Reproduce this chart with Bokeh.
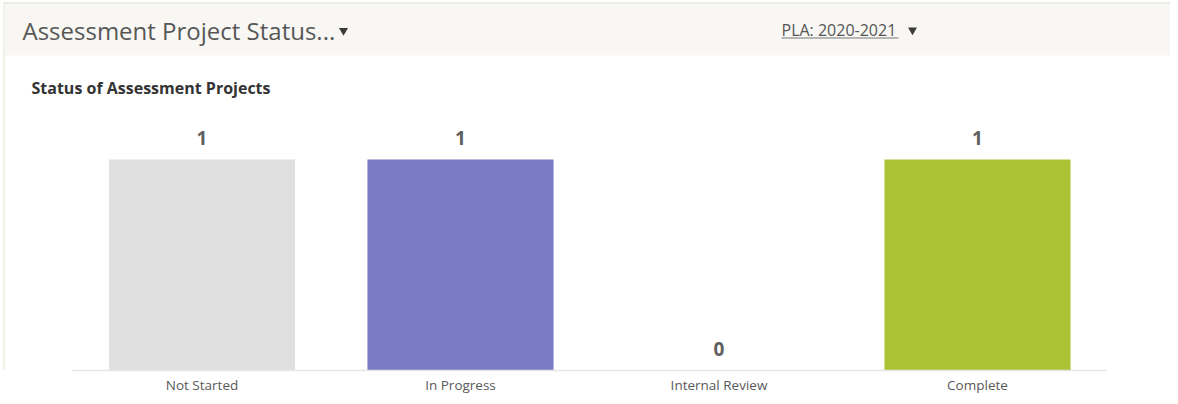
from bokeh.plotting import figure
from bokeh.models import Range1d, FixedTicker, ColumnDataSource
from bokeh.core.properties import value
from bokeh.embed import file_html
from bokeh.resources import INLINE

# ---- data ----
categories = ["Not Started", "In Progress", "Internal Review", "Complete"]
counts = [1, 1, 0, 1]
bar_colors = ["#e0e0e0", "#7b7ac6", "#f0a030", "#abc235"]
header_title = "Assessment Project Status..."
selector_label = "PLA: 2020-2021"
chart_title = "Status of Assessment Projects"

FONT = "Open Sans"
W = 1170
H = 396
BOTTOM = 26
FH = H - BOTTOM          # frame height in px
PX_PER_CAT = 258.5
X0 = -201.5 / PX_PER_CAT  # left edge of frame in category units
PX_PER_UNIT = FH - 159    # pixels for a count of 1

positions = list(range(len(categories)))

p = figure(width=W, height=H,
           x_range=Range1d(X0, X0 + W / PX_PER_CAT),
           y_range=Range1d(0, FH / PX_PER_UNIT),
           output_backend="svg", toolbar_location=None, y_axis_location=None,
           min_border_left=0, min_border_right=0, min_border_top=0, min_border_bottom=BOTTOM)
p.outline_line_color = None
p.xgrid.visible = False
p.ygrid.visible = False
p.background_fill_color = "white"
p.border_fill_color = "white"

# pixel-space ranges for the card header decorations
p.extra_x_ranges = {"px": Range1d(0, W)}
p.extra_y_ranges = {"px": Range1d(FH, 0)}
kw = dict(x_range_name="px", y_range_name="px")

p.quad(left=[4], right=[W], top=[3], bottom=[55], fill_color="#f8f7f3", line_color=None, **kw)
p.segment(x0=[3], y0=[2.5], x1=[W], y1=[2.5], line_color="#e6e4dc", line_width=1.5, **kw)
p.segment(x0=[3.5], y0=[3], x1=[3.5], y1=[FH], line_color="#eeeee4", line_width=1.5, **kw)

p.text(x=[22], y=[29.5], text=[header_title], text_font=value(FONT), text_font_size="24px",
       text_color="#575757", text_baseline="alphabetic", text_align="left", **kw)
p.scatter(x=[343], y=[30], marker="inverted_triangle", size=9, fill_color="#3a3a3a",
          line_color=None, **kw)
p.text(x=[781], y=[29], text=[selector_label], text_font=value(FONT), text_font_size="16px",
       text_color="#555555", text_baseline="alphabetic", text_align="left", **kw)
p.segment(x0=[781], y0=[37.5], x1=[898], y1=[37.5], line_color="#777777", line_width=1, **kw)
p.scatter(x=[912], y=[29.5], marker="inverted_triangle", size=9, fill_color="#3a3a3a",
          line_color=None, **kw)
p.text(x=[31], y=[87.3], text=[chart_title], text_font=value(FONT), text_font_size="16px",
       text_font_style="bold", text_color="#333333", text_baseline="alphabetic",
       text_align="left", **kw)

# ---- bars ----
src = ColumnDataSource(dict(pos=positions, val=counts, color=bar_colors,
                            lbl=[str(v) for v in counts]))
p.vbar(x="pos", top="val", width=0.72, fill_color="color", line_color=None, source=src)
p.text(x="pos", y="val", text="lbl", source=src, text_font=value(FONT), text_font_size="19px",
       text_font_style="bold", text_color="#606060", text_align="center",
       text_baseline="alphabetic", y_offset=-22)

ax = p.xaxis[0]
ax.ticker = FixedTicker(ticks=positions)
ax.major_label_overrides = {i: c for i, c in zip(positions, categories)}
ax.bounds = (-0.5, len(categories) - 0.5)
ax.axis_line_color = "#e6e6e6"
ax.axis_line_width = 1.5
ax.major_tick_line_color = None
ax.minor_tick_line_color = None
ax.major_tick_out = 0
ax.major_tick_in = 0
ax.major_label_standoff = 5
ax.major_label_text_font = FONT
ax.major_label_text_font_size = "13.5px"
ax.major_label_text_color = "#595959"

open("out.html", "w").write(file_html(p, INLINE))
